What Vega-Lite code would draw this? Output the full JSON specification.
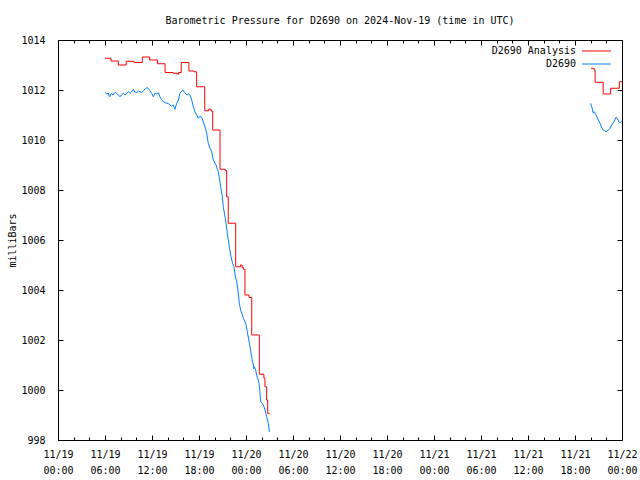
{
  "$schema": "https://vega.github.io/schema/vega-lite/v6.json",
  "width": 564,
  "height": 400,
  "autosize": {"type": "none"},
  "padding": {"left": 58, "top": 40, "right": 18, "bottom": 40},
  "background": "white",
  "title": {"text": "Barometric Pressure for D2690 on 2024-Nov-19 (time in UTC)", "font": "DejaVu Sans Mono", "fontSize": 10, "fontWeight": "normal", "anchor": "middle", "frame": "group", "baseline": "alphabetic", "offset": 1, "color": "black"},
  "config": {
    "font": "DejaVu Sans Mono",
    "view": {"stroke": "black", "strokeWidth": 1},
    "axis": {"grid": false, "domain": false, "zindex": 1, "tickColor": "black", "tickWidth": 1, "labelColor": "black", "labelFont": "DejaVu Sans Mono", "labelFontSize": 10, "titleFont": "DejaVu Sans Mono", "titleFontSize": 10, "titleFontWeight": "normal", "titleColor": "black"},
    "legend": {"orient": "none", "legendX": 531.5, "legendY": 4, "symbolType": "M-2.23,0H2.23", "symbolSize": 169, "symbolStrokeWidth": 1, "labelAlign": "right", "labelOffset": -27.5, "labelFont": "DejaVu Sans Mono", "labelFontSize": 10, "labelColor": "black", "rowPadding": 1}
  },
  "datasets": {
    "analysis": [
      {"t": "2024-11-19T06:00:00Z", "p": 1013.27, "s": "D2690 Analysis", "g": 1},
      {"t": "2024-11-19T06:46:00Z", "p": 1013.16, "s": "D2690 Analysis", "g": 1},
      {"t": "2024-11-19T07:42:00Z", "p": 1013.0, "s": "D2690 Analysis", "g": 1},
      {"t": "2024-11-19T08:42:00Z", "p": 1013.15, "s": "D2690 Analysis", "g": 1},
      {"t": "2024-11-19T09:42:00Z", "p": 1013.1, "s": "D2690 Analysis", "g": 1},
      {"t": "2024-11-19T10:46:00Z", "p": 1013.32, "s": "D2690 Analysis", "g": 1},
      {"t": "2024-11-19T11:42:00Z", "p": 1013.2, "s": "D2690 Analysis", "g": 1},
      {"t": "2024-11-19T12:42:00Z", "p": 1013.05, "s": "D2690 Analysis", "g": 1},
      {"t": "2024-11-19T13:40:00Z", "p": 1012.7, "s": "D2690 Analysis", "g": 1},
      {"t": "2024-11-19T14:41:00Z", "p": 1012.67, "s": "D2690 Analysis", "g": 1},
      {"t": "2024-11-19T15:14:00Z", "p": 1012.63, "s": "D2690 Analysis", "g": 1},
      {"t": "2024-11-19T15:24:00Z", "p": 1012.7, "s": "D2690 Analysis", "g": 1},
      {"t": "2024-11-19T15:44:00Z", "p": 1013.1, "s": "D2690 Analysis", "g": 1},
      {"t": "2024-11-19T16:43:00Z", "p": 1012.76, "s": "D2690 Analysis", "g": 1},
      {"t": "2024-11-19T17:22:00Z", "p": 1012.73, "s": "D2690 Analysis", "g": 1},
      {"t": "2024-11-19T17:42:00Z", "p": 1012.13, "s": "D2690 Analysis", "g": 1},
      {"t": "2024-11-19T18:44:00Z", "p": 1011.17, "s": "D2690 Analysis", "g": 1},
      {"t": "2024-11-19T19:14:00Z", "p": 1011.23, "s": "D2690 Analysis", "g": 1},
      {"t": "2024-11-19T19:32:00Z", "p": 1011.16, "s": "D2690 Analysis", "g": 1},
      {"t": "2024-11-19T19:45:00Z", "p": 1010.4, "s": "D2690 Analysis", "g": 1},
      {"t": "2024-11-19T20:41:00Z", "p": 1008.83, "s": "D2690 Analysis", "g": 1},
      {"t": "2024-11-19T21:21:00Z", "p": 1008.78, "s": "D2690 Analysis", "g": 1},
      {"t": "2024-11-19T21:32:00Z", "p": 1007.73, "s": "D2690 Analysis", "g": 1},
      {"t": "2024-11-19T21:44:00Z", "p": 1006.67, "s": "D2690 Analysis", "g": 1},
      {"t": "2024-11-19T22:41:00Z", "p": 1004.93, "s": "D2690 Analysis", "g": 1},
      {"t": "2024-11-19T23:18:00Z", "p": 1005.0, "s": "D2690 Analysis", "g": 1},
      {"t": "2024-11-19T23:30:00Z", "p": 1004.9, "s": "D2690 Analysis", "g": 1},
      {"t": "2024-11-19T23:40:00Z", "p": 1004.83, "s": "D2690 Analysis", "g": 1},
      {"t": "2024-11-19T23:52:00Z", "p": 1003.8, "s": "D2690 Analysis", "g": 1},
      {"t": "2024-11-20T00:23:00Z", "p": 1003.7, "s": "D2690 Analysis", "g": 1},
      {"t": "2024-11-20T00:44:00Z", "p": 1002.2, "s": "D2690 Analysis", "g": 1},
      {"t": "2024-11-20T01:42:00Z", "p": 1000.63, "s": "D2690 Analysis", "g": 1},
      {"t": "2024-11-20T02:17:00Z", "p": 1000.47, "s": "D2690 Analysis", "g": 1},
      {"t": "2024-11-20T02:25:00Z", "p": 1000.13, "s": "D2690 Analysis", "g": 1},
      {"t": "2024-11-20T02:38:00Z", "p": 999.6, "s": "D2690 Analysis", "g": 1},
      {"t": "2024-11-20T02:46:00Z", "p": 999.07, "s": "D2690 Analysis", "g": 1},
      {"t": "2024-11-20T02:58:00Z", "p": 999.03, "s": "D2690 Analysis", "g": 1},
      {"t": "2024-11-21T20:03:00Z", "p": 1012.87, "s": "D2690 Analysis", "g": 2},
      {"t": "2024-11-21T20:26:00Z", "p": 1012.8, "s": "D2690 Analysis", "g": 2},
      {"t": "2024-11-21T20:34:00Z", "p": 1012.31, "s": "D2690 Analysis", "g": 2},
      {"t": "2024-11-21T21:36:00Z", "p": 1011.84, "s": "D2690 Analysis", "g": 2},
      {"t": "2024-11-21T22:33:00Z", "p": 1012.07, "s": "D2690 Analysis", "g": 2},
      {"t": "2024-11-21T23:40:00Z", "p": 1012.33, "s": "D2690 Analysis", "g": 2},
      {"t": "2024-11-22T00:00:00Z", "p": 1012.33, "s": "D2690 Analysis", "g": 2}
    ],
    "obs": [
      {"t": "2024-11-19T06:00:00Z", "p": 1011.91, "s": "D2690", "g": 1},
      {"t": "2024-11-19T06:12:00Z", "p": 1011.85, "s": "D2690", "g": 1},
      {"t": "2024-11-19T06:26:00Z", "p": 1011.87, "s": "D2690", "g": 1},
      {"t": "2024-11-19T06:33:00Z", "p": 1011.75, "s": "D2690", "g": 1},
      {"t": "2024-11-19T06:38:00Z", "p": 1011.73, "s": "D2690", "g": 1},
      {"t": "2024-11-19T06:45:00Z", "p": 1011.85, "s": "D2690", "g": 1},
      {"t": "2024-11-19T06:51:00Z", "p": 1011.87, "s": "D2690", "g": 1},
      {"t": "2024-11-19T07:00:00Z", "p": 1011.8, "s": "D2690", "g": 1},
      {"t": "2024-11-19T07:17:00Z", "p": 1011.91, "s": "D2690", "g": 1},
      {"t": "2024-11-19T07:29:00Z", "p": 1011.87, "s": "D2690", "g": 1},
      {"t": "2024-11-19T07:42:00Z", "p": 1011.8, "s": "D2690", "g": 1},
      {"t": "2024-11-19T07:55:00Z", "p": 1011.73, "s": "D2690", "g": 1},
      {"t": "2024-11-19T08:06:00Z", "p": 1011.8, "s": "D2690", "g": 1},
      {"t": "2024-11-19T08:20:00Z", "p": 1011.87, "s": "D2690", "g": 1},
      {"t": "2024-11-19T08:33:00Z", "p": 1011.8, "s": "D2690", "g": 1},
      {"t": "2024-11-19T08:45:00Z", "p": 1011.85, "s": "D2690", "g": 1},
      {"t": "2024-11-19T08:59:00Z", "p": 1011.93, "s": "D2690", "g": 1},
      {"t": "2024-11-19T09:12:00Z", "p": 1011.87, "s": "D2690", "g": 1},
      {"t": "2024-11-19T09:24:00Z", "p": 1011.93, "s": "D2690", "g": 1},
      {"t": "2024-11-19T09:37:00Z", "p": 1012.03, "s": "D2690", "g": 1},
      {"t": "2024-11-19T09:48:00Z", "p": 1011.92, "s": "D2690", "g": 1},
      {"t": "2024-11-19T10:02:00Z", "p": 1011.89, "s": "D2690", "g": 1},
      {"t": "2024-11-19T10:15:00Z", "p": 1011.95, "s": "D2690", "g": 1},
      {"t": "2024-11-19T10:28:00Z", "p": 1011.93, "s": "D2690", "g": 1},
      {"t": "2024-11-19T10:42:00Z", "p": 1011.9, "s": "D2690", "g": 1},
      {"t": "2024-11-19T10:53:00Z", "p": 1011.97, "s": "D2690", "g": 1},
      {"t": "2024-11-19T11:07:00Z", "p": 1012.04, "s": "D2690", "g": 1},
      {"t": "2024-11-19T11:24:00Z", "p": 1012.1, "s": "D2690", "g": 1},
      {"t": "2024-11-19T11:40:00Z", "p": 1012.0, "s": "D2690", "g": 1},
      {"t": "2024-11-19T11:58:00Z", "p": 1011.87, "s": "D2690", "g": 1},
      {"t": "2024-11-19T12:10:00Z", "p": 1011.73, "s": "D2690", "g": 1},
      {"t": "2024-11-19T12:23:00Z", "p": 1011.87, "s": "D2690", "g": 1},
      {"t": "2024-11-19T12:36:00Z", "p": 1011.85, "s": "D2690", "g": 1},
      {"t": "2024-11-19T12:49:00Z", "p": 1011.89, "s": "D2690", "g": 1},
      {"t": "2024-11-19T13:01:00Z", "p": 1011.73, "s": "D2690", "g": 1},
      {"t": "2024-11-19T13:12:00Z", "p": 1011.62, "s": "D2690", "g": 1},
      {"t": "2024-11-19T13:27:00Z", "p": 1011.53, "s": "D2690", "g": 1},
      {"t": "2024-11-19T13:52:00Z", "p": 1011.47, "s": "D2690", "g": 1},
      {"t": "2024-11-19T14:06:00Z", "p": 1011.45, "s": "D2690", "g": 1},
      {"t": "2024-11-19T14:18:00Z", "p": 1011.4, "s": "D2690", "g": 1},
      {"t": "2024-11-19T14:30:00Z", "p": 1011.35, "s": "D2690", "g": 1},
      {"t": "2024-11-19T14:43:00Z", "p": 1011.4, "s": "D2690", "g": 1},
      {"t": "2024-11-19T14:56:00Z", "p": 1011.23, "s": "D2690", "g": 1},
      {"t": "2024-11-19T15:09:00Z", "p": 1011.47, "s": "D2690", "g": 1},
      {"t": "2024-11-19T15:22:00Z", "p": 1011.6, "s": "D2690", "g": 1},
      {"t": "2024-11-19T15:34:00Z", "p": 1011.87, "s": "D2690", "g": 1},
      {"t": "2024-11-19T15:45:00Z", "p": 1011.95, "s": "D2690", "g": 1},
      {"t": "2024-11-19T15:55:00Z", "p": 1012.0, "s": "D2690", "g": 1},
      {"t": "2024-11-19T16:13:00Z", "p": 1011.89, "s": "D2690", "g": 1},
      {"t": "2024-11-19T16:26:00Z", "p": 1011.8, "s": "D2690", "g": 1},
      {"t": "2024-11-19T16:38:00Z", "p": 1011.84, "s": "D2690", "g": 1},
      {"t": "2024-11-19T16:51:00Z", "p": 1011.8, "s": "D2690", "g": 1},
      {"t": "2024-11-19T17:04:00Z", "p": 1011.6, "s": "D2690", "g": 1},
      {"t": "2024-11-19T17:17:00Z", "p": 1011.33, "s": "D2690", "g": 1},
      {"t": "2024-11-19T17:29:00Z", "p": 1011.13, "s": "D2690", "g": 1},
      {"t": "2024-11-19T17:42:00Z", "p": 1011.0, "s": "D2690", "g": 1},
      {"t": "2024-11-19T17:55:00Z", "p": 1010.87, "s": "D2690", "g": 1},
      {"t": "2024-11-19T18:06:00Z", "p": 1010.95, "s": "D2690", "g": 1},
      {"t": "2024-11-19T18:20:00Z", "p": 1010.91, "s": "D2690", "g": 1},
      {"t": "2024-11-19T18:33:00Z", "p": 1010.73, "s": "D2690", "g": 1},
      {"t": "2024-11-19T18:46:00Z", "p": 1010.53, "s": "D2690", "g": 1},
      {"t": "2024-11-19T18:59:00Z", "p": 1010.27, "s": "D2690", "g": 1},
      {"t": "2024-11-19T19:11:00Z", "p": 1009.87, "s": "D2690", "g": 1},
      {"t": "2024-11-19T19:24:00Z", "p": 1009.67, "s": "D2690", "g": 1},
      {"t": "2024-11-19T19:37:00Z", "p": 1009.53, "s": "D2690", "g": 1},
      {"t": "2024-11-19T19:50:00Z", "p": 1009.2, "s": "D2690", "g": 1},
      {"t": "2024-11-19T20:10:00Z", "p": 1009.0, "s": "D2690", "g": 1},
      {"t": "2024-11-19T20:28:00Z", "p": 1008.73, "s": "D2690", "g": 1},
      {"t": "2024-11-19T20:36:00Z", "p": 1008.47, "s": "D2690", "g": 1},
      {"t": "2024-11-19T20:46:00Z", "p": 1008.13, "s": "D2690", "g": 1},
      {"t": "2024-11-19T20:59:00Z", "p": 1007.73, "s": "D2690", "g": 1},
      {"t": "2024-11-19T21:06:00Z", "p": 1007.33, "s": "D2690", "g": 1},
      {"t": "2024-11-19T21:19:00Z", "p": 1006.93, "s": "D2690", "g": 1},
      {"t": "2024-11-19T21:27:00Z", "p": 1006.67, "s": "D2690", "g": 1},
      {"t": "2024-11-19T21:37:00Z", "p": 1006.27, "s": "D2690", "g": 1},
      {"t": "2024-11-19T21:52:00Z", "p": 1005.73, "s": "D2690", "g": 1},
      {"t": "2024-11-19T22:05:00Z", "p": 1005.33, "s": "D2690", "g": 1},
      {"t": "2024-11-19T22:18:00Z", "p": 1005.05, "s": "D2690", "g": 1},
      {"t": "2024-11-19T22:28:00Z", "p": 1004.93, "s": "D2690", "g": 1},
      {"t": "2024-11-19T22:36:00Z", "p": 1004.6, "s": "D2690", "g": 1},
      {"t": "2024-11-19T22:49:00Z", "p": 1004.33, "s": "D2690", "g": 1},
      {"t": "2024-11-19T23:01:00Z", "p": 1003.87, "s": "D2690", "g": 1},
      {"t": "2024-11-19T23:09:00Z", "p": 1003.47, "s": "D2690", "g": 1},
      {"t": "2024-11-19T23:19:00Z", "p": 1003.2, "s": "D2690", "g": 1},
      {"t": "2024-11-19T23:40:00Z", "p": 1002.87, "s": "D2690", "g": 1},
      {"t": "2024-11-19T23:58:00Z", "p": 1002.67, "s": "D2690", "g": 1},
      {"t": "2024-11-20T00:10:00Z", "p": 1002.33, "s": "D2690", "g": 1},
      {"t": "2024-11-20T00:26:00Z", "p": 1001.87, "s": "D2690", "g": 1},
      {"t": "2024-11-20T00:43:00Z", "p": 1001.33, "s": "D2690", "g": 1},
      {"t": "2024-11-20T00:56:00Z", "p": 1001.0, "s": "D2690", "g": 1},
      {"t": "2024-11-20T01:00:00Z", "p": 1000.85, "s": "D2690", "g": 1},
      {"t": "2024-11-20T01:04:00Z", "p": 1000.93, "s": "D2690", "g": 1},
      {"t": "2024-11-20T01:14:00Z", "p": 1000.8, "s": "D2690", "g": 1},
      {"t": "2024-11-20T01:22:00Z", "p": 1000.6, "s": "D2690", "g": 1},
      {"t": "2024-11-20T01:40:00Z", "p": 1000.27, "s": "D2690", "g": 1},
      {"t": "2024-11-20T01:47:00Z", "p": 999.87, "s": "D2690", "g": 1},
      {"t": "2024-11-20T01:53:00Z", "p": 999.53, "s": "D2690", "g": 1},
      {"t": "2024-11-20T02:13:00Z", "p": 999.4, "s": "D2690", "g": 1},
      {"t": "2024-11-20T02:26:00Z", "p": 999.2, "s": "D2690", "g": 1},
      {"t": "2024-11-20T02:38:00Z", "p": 998.93, "s": "D2690", "g": 1},
      {"t": "2024-11-20T02:51:00Z", "p": 998.67, "s": "D2690", "g": 1},
      {"t": "2024-11-20T02:59:00Z", "p": 998.33, "s": "D2690", "g": 1},
      {"t": "2024-11-21T20:00:00Z", "p": 1011.47, "s": "D2690", "g": 2},
      {"t": "2024-11-21T20:12:00Z", "p": 1011.27, "s": "D2690", "g": 2},
      {"t": "2024-11-21T20:18:00Z", "p": 1011.09, "s": "D2690", "g": 2},
      {"t": "2024-11-21T20:27:00Z", "p": 1011.13, "s": "D2690", "g": 2},
      {"t": "2024-11-21T20:41:00Z", "p": 1011.0, "s": "D2690", "g": 2},
      {"t": "2024-11-21T20:59:00Z", "p": 1010.8, "s": "D2690", "g": 2},
      {"t": "2024-11-21T21:12:00Z", "p": 1010.67, "s": "D2690", "g": 2},
      {"t": "2024-11-21T21:24:00Z", "p": 1010.51, "s": "D2690", "g": 2},
      {"t": "2024-11-21T21:36:00Z", "p": 1010.4, "s": "D2690", "g": 2},
      {"t": "2024-11-21T21:58:00Z", "p": 1010.33, "s": "D2690", "g": 2},
      {"t": "2024-11-21T22:16:00Z", "p": 1010.4, "s": "D2690", "g": 2},
      {"t": "2024-11-21T22:28:00Z", "p": 1010.47, "s": "D2690", "g": 2},
      {"t": "2024-11-21T22:41:00Z", "p": 1010.6, "s": "D2690", "g": 2},
      {"t": "2024-11-21T22:59:00Z", "p": 1010.73, "s": "D2690", "g": 2},
      {"t": "2024-11-21T23:14:00Z", "p": 1010.91, "s": "D2690", "g": 2},
      {"t": "2024-11-21T23:24:00Z", "p": 1010.87, "s": "D2690", "g": 2},
      {"t": "2024-11-21T23:35:00Z", "p": 1010.73, "s": "D2690", "g": 2},
      {"t": "2024-11-21T23:45:00Z", "p": 1010.69, "s": "D2690", "g": 2},
      {"t": "2024-11-21T23:57:00Z", "p": 1010.75, "s": "D2690", "g": 2}
    ]
  },
  "layer": [
    {
      "data": {"name": "analysis"},
      "mark": {"type": "line", "interpolate": "step-after", "strokeWidth": 1, "clip": true},
      "encoding": {
        "x": {"field": "t", "type": "temporal",
          "scale": {"type": "utc", "domain": [{"year": 2024, "month": 11, "date": 19, "hours": 0, "utc": true}, {"year": 2024, "month": 11, "date": 22, "hours": 0, "utc": true}]},
          "axis": {"orient": "bottom", "title": null,
            "values": [1731974400000, 1731981600000, 1731988800000, 1731996000000, 1732003200000, 1732010400000, 1732017600000, 1732024800000, 1732032000000, 1732039200000, 1732046400000, 1732053600000, 1732060800000, 1732068000000, 1732075200000, 1732082400000, 1732089600000, 1732096800000, 1732104000000, 1732111200000, 1732118400000, 1732125600000, 1732132800000, 1732140000000, 1732147200000, 1732154400000, 1732161600000, 1732168800000, 1732176000000, 1732183200000, 1732190400000, 1732197600000, 1732204800000, 1732212000000, 1732219200000, 1732226400000, 1732233600000],
            "labelExpr": "utchours(datum.value) % 6 == 0 ? [utcFormat(datum.value, '%m/%d'), utcFormat(datum.value, '%H:%M')] : ''",
            "tickSize": {"condition": {"test": "utchours(datum.value) % 6 == 0", "value": -5}, "value": -3},
            "labelPadding": 14, "labelAngle": 0, "labelAlign": "center", "labelBaseline": "top", "labelLineHeight": 16, "labelOverlap": false, "labelFlush": false, "labelBound": false}},
        "y": {"field": "p", "type": "quantitative",
          "scale": {"domain": [998, 1014], "nice": false, "zero": false},
          "axis": {"orient": "left", "values": [998, 1000, 1002, 1004, 1006, 1008, 1010, 1012, 1014], "format": "d", "tickSize": -5, "labelPadding": 18,
            "title": "milliBars", "titleX": -46, "titleY": 200, "titleAngle": 270, "titleAlign": "center", "titleBaseline": "middle"}},
        "color": {"field": "s", "type": "nominal", "scale": {"domain": ["D2690 Analysis", "D2690"], "range": ["#ff0000", "#0080ff"]}, "legend": {"title": null}},
        "detail": {"field": "g"}
      }
    },
    {
      "data": {"name": "obs"},
      "mark": {"type": "line", "interpolate": "linear", "strokeWidth": 1, "clip": true},
      "encoding": {
        "x": {"field": "t", "type": "temporal",
          "axis": {"orient": "top", "title": null, "labels": false,
            "values": [1731974400000, 1731981600000, 1731988800000, 1731996000000, 1732003200000, 1732010400000, 1732017600000, 1732024800000, 1732032000000, 1732039200000, 1732046400000, 1732053600000, 1732060800000, 1732068000000, 1732075200000, 1732082400000, 1732089600000, 1732096800000, 1732104000000, 1732111200000, 1732118400000, 1732125600000, 1732132800000, 1732140000000, 1732147200000, 1732154400000, 1732161600000, 1732168800000, 1732176000000, 1732183200000, 1732190400000, 1732197600000, 1732204800000, 1732212000000, 1732219200000, 1732226400000, 1732233600000],
            "tickSize": {"condition": {"test": "utchours(datum.value) % 6 == 0", "value": -5}, "value": -3}}},
        "y": {"field": "p", "type": "quantitative",
          "axis": {"orient": "right", "title": null, "labels": false, "values": [998, 1000, 1002, 1004, 1006, 1008, 1010, 1012, 1014], "tickSize": -5}},
        "color": {"field": "s", "type": "nominal"},
        "detail": {"field": "g"}
      }
    }
  ],
  "resolve": {"axis": {"x": "independent", "y": "independent"}}
}
